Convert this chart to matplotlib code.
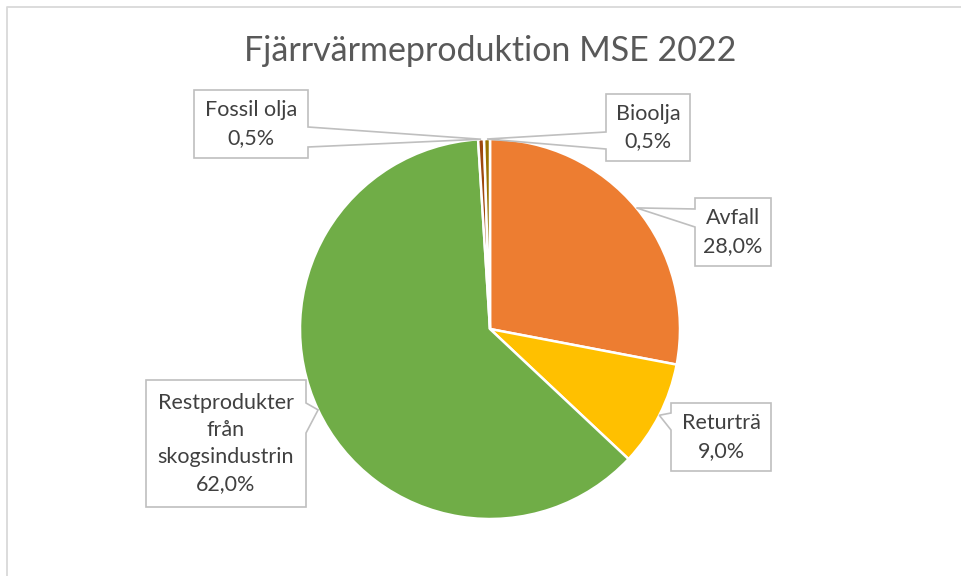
import numpy as np
import matplotlib.pyplot as plt
from matplotlib.patches import Polygon

plt.rcParams['font.family'] = ['Lato', 'DejaVu Sans']

# data
labels = ['Avfall', 'Returträ', 'Restprodukter\nfrån\nskogsindustrin', 'Fossil olja', 'Bioolja']
values = [28.0, 9.0, 62.0, 0.5, 0.5]
colors = ['#ED7D31', '#FFC000', '#70AD47', '#9E480E', '#997300']
title = 'Fjärrvärmeproduktion MSE 2022'

W, H = 962, 576

# label boxes in pixel coords (x0, y0, x1, y1), notch side, notch y-range
boxes = [
    ((695, 198, 771, 266), 'left', (209, 227)),
    ((671, 403, 771, 471), 'left', (413, 430)),
    ((146, 380, 306, 507), 'right', (403, 433)),
    ((194, 90, 308, 158), 'right', (127, 147)),
    ((606, 94, 690, 161), 'left', (132, 149)),
]

fig = plt.figure(figsize=(W / 100, H / 100), dpi=100)
ax = fig.add_axes([0, 0, 1, 1])

cx, cy, r = 490, H - 329, 190
wedges, _ = ax.pie(values, colors=colors, startangle=90, counterclock=False,
                   center=(cx, cy), radius=r,
                   wedgeprops=dict(edgecolor='white', linewidth=1.8))
ax.set_xlim(0, W)
ax.set_ylim(0, H)
ax.set_aspect('equal')
ax.axis('off')

# ram runt diagrammet
ax.plot([7, 7, W + 5], [-5, H - 7, H - 7], color='#D9D9D9', lw=1.3, clip_on=False)

ax.text(490, H - 51, title, ha='center', va='center', fontsize=24.5, color='#595959')

for w, lab, val, (box, side, notch) in zip(wedges, labels, values, boxes):
    mid = np.deg2rad((w.theta1 + w.theta2) / 2)
    tip = (cx + r * np.cos(mid), cy + r * np.sin(mid))
    x0, y0, x1, y1 = box
    y0, y1 = H - y0, H - y1
    n1, n2 = H - notch[0], H - notch[1]
    if side == 'left':
        pts = [(x0, y0), (x1, y0), (x1, y1), (x0, y1), (x0, n2), tip, (x0, n1)]
    else:
        pts = [(x0, y0), (x1, y0), (x1, n1), tip, (x1, n2), (x1, y1), (x0, y1)]
    ax.add_patch(Polygon(pts, closed=True, facecolor='white', edgecolor='#BFBFBF',
                         lw=1.2, zorder=5))
    txt = f"{lab}\n{val:.1f}%".replace('.', ',')
    ax.text((x0 + x1) / 2, (y0 + y1) / 2, txt, ha='center', va='center',
            fontsize=15.5, color='#404040', linespacing=1.45, zorder=6)

fig.savefig('out.png', dpi=100)
